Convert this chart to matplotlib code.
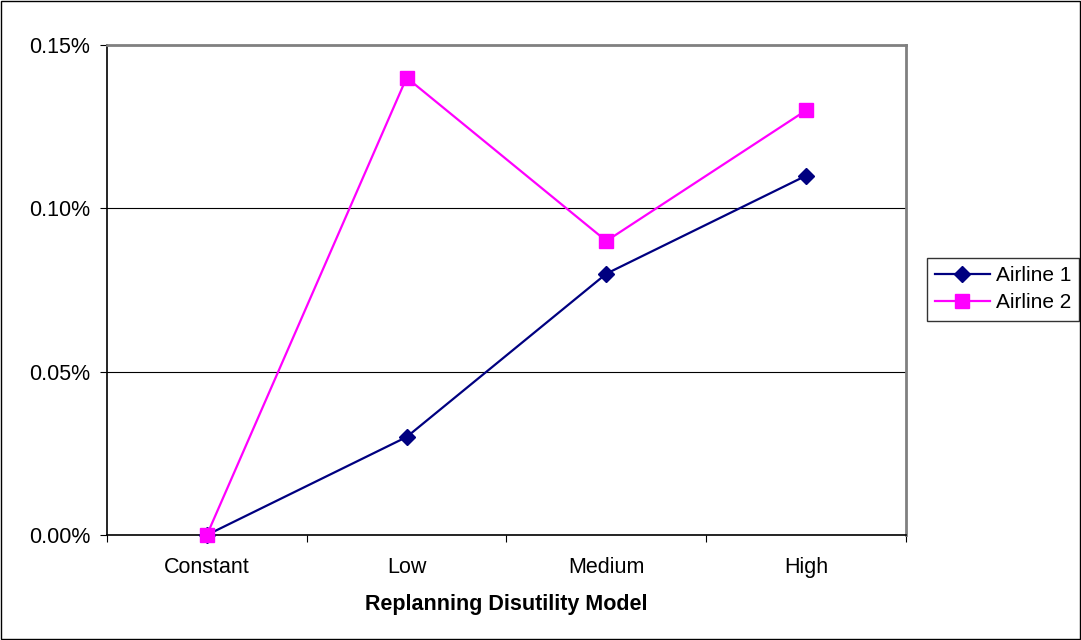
import matplotlib
matplotlib.use('Agg')
import matplotlib.pyplot as plt
from matplotlib.ticker import FuncFormatter

plt.rcParams['font.family'] = ['Liberation Sans', 'DejaVu Sans']

categories = ['Constant', 'Low', 'Medium', 'High']
airline1 = [0.00, 0.03, 0.08, 0.11]
airline2 = [0.00, 0.14, 0.09, 0.13]

fs = 15.5

fig = plt.figure(figsize=(10.81, 6.40), dpi=100)
ax = fig.add_axes([107/1081, 1 - 535/640, (906 - 107)/1081, (535 - 45)/640])

x = range(len(categories))
ax.plot(x, airline1, color='#000080', marker='D', markersize=8, lw=1.6,
        label='Airline 1', clip_on=False, zorder=3)
ax.plot(x, airline2, color='#FF00FF', marker='s', markersize=10, lw=1.6,
        label='Airline 2', clip_on=False, zorder=4)

ax.set_xlim(-0.5, 3.5)
ax.set_ylim(0, 0.15)
ax.set_yticks([0, 0.05, 0.10, 0.15])
ax.yaxis.set_major_formatter(FuncFormatter(lambda v, p: f'{v:.2f}%'))
ax.set_xticks([-0.5, 0.5, 1.5, 2.5, 3.5])
ax.set_xticklabels([])
ax.set_xticks(list(x), minor=True)
ax.set_xticklabels(categories, minor=True)
ax.tick_params(axis='x', which='minor', length=0, pad=15.5, labelsize=fs)
ax.tick_params(axis='x', which='major', length=5, direction='out', color='black')
ax.tick_params(axis='y', length=5, direction='out', labelsize=fs, pad=7)

ax.grid(axis='y', color='black', lw=0.8)
ax.set_axisbelow(True)
for s in ['left', 'bottom']:
    ax.spines[s].set_color('black')
    ax.spines[s].set_linewidth(1.2)
for s in ['top', 'right']:
    ax.spines[s].set_color('#808080')
    ax.spines[s].set_linewidth(2)

ax.set_xlabel('Replanning Disutility Model', fontweight='bold', fontsize=fs, labelpad=12)

leg = ax.legend(loc='center left', bbox_to_anchor=(927/1081, 1 - 289/640),
                bbox_transform=fig.transFigure, fontsize=15, frameon=True,
                fancybox=False, edgecolor='black', borderpad=0.4,
                handlelength=2.6, handletextpad=0.3, labelspacing=0.4,
                borderaxespad=0)
leg.get_frame().set_linewidth(1)

fig.patches.append(plt.Rectangle((0.001, 0.001), 0.998, 0.997, transform=fig.transFigure,
                                 fill=False, edgecolor='black', lw=1))

fig.savefig('out.png', dpi=100)
